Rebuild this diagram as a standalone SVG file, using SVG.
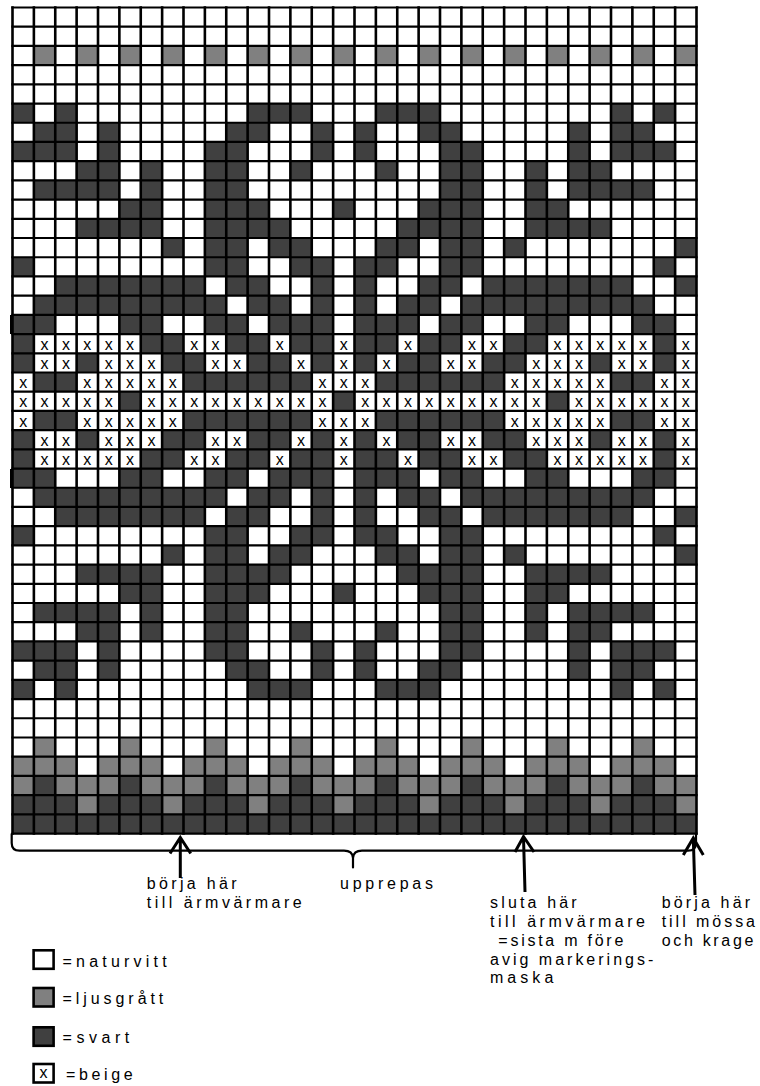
<svg xmlns="http://www.w3.org/2000/svg" xmlns:xlink="http://www.w3.org/1999/xlink" width="760" height="1086" viewBox="0 0 760 1086">
<style>
.d{fill:#404040}
.g{fill:#808080}
.gl{fill:none;stroke:#000;vector-effect:non-scaling-stroke;stroke-linecap:square}
.v{stroke-width:2.6}
.h{stroke-width:2.2}
.x{font-family:"Liberation Sans",Arial,sans-serif;font-size:16px;text-anchor:middle;fill:#000}
.t{font-family:"Liberation Sans",Arial,sans-serif;font-size:16px;fill:#000}
.ln{fill:none;stroke:#000;stroke-width:2.2;stroke-linecap:round;stroke-linejoin:round}
.ar{fill:none;stroke:#000;stroke-width:3;stroke-linejoin:miter}
.lg{stroke:#000;stroke-width:2.6}
</style>
<rect width="760" height="1086" fill="#fff"/>
<g id="chart">
<g id="cells" transform="translate(12.5,7.5) scale(21.375,19.21)">
<rect x="0" y="0" width="32" height="43" fill="#fff"/>
<g id="row3">
<rect class="g" x="1" y="2" width="1" height="1"/><rect class="g" x="3" y="2" width="1" height="1"/><rect class="g" x="5" y="2" width="1" height="1"/><rect class="g" x="7" y="2" width="1" height="1"/><rect class="g" x="9" y="2" width="1" height="1"/><rect class="g" x="11" y="2" width="1" height="1"/><rect class="g" x="13" y="2" width="1" height="1"/><rect class="g" x="15" y="2" width="1" height="1"/><rect class="g" x="17" y="2" width="1" height="1"/><rect class="g" x="19" y="2" width="1" height="1"/><rect class="g" x="21" y="2" width="1" height="1"/><rect class="g" x="23" y="2" width="1" height="1"/><rect class="g" x="25" y="2" width="1" height="1"/><rect class="g" x="27" y="2" width="1" height="1"/><rect class="g" x="29" y="2" width="1" height="1"/><rect class="g" x="31" y="2" width="1" height="1"/>
</g>
<g id="motif">
<rect class="d" x="0" y="5" width="1" height="1"/><rect class="d" x="2" y="5" width="1" height="1"/><rect class="d" x="11" y="5" width="3" height="1"/><rect class="d" x="17" y="5" width="3" height="1"/><rect class="d" x="28" y="5" width="1" height="1"/><rect class="d" x="30" y="5" width="1" height="1"/>
<rect class="d" x="1" y="6" width="2" height="1"/><rect class="d" x="4" y="6" width="1" height="1"/><rect class="d" x="10" y="6" width="2" height="1"/><rect class="d" x="14" y="6" width="1" height="1"/><rect class="d" x="16" y="6" width="1" height="1"/><rect class="d" x="19" y="6" width="2" height="1"/><rect class="d" x="26" y="6" width="1" height="1"/><rect class="d" x="28" y="6" width="2" height="1"/>
<rect class="d" x="0" y="7" width="3" height="1"/><rect class="d" x="4" y="7" width="1" height="1"/><rect class="d" x="9" y="7" width="2" height="1"/><rect class="d" x="14" y="7" width="1" height="1"/><rect class="d" x="16" y="7" width="1" height="1"/><rect class="d" x="20" y="7" width="2" height="1"/><rect class="d" x="26" y="7" width="1" height="1"/><rect class="d" x="28" y="7" width="3" height="1"/>
<rect class="d" x="3" y="8" width="2" height="1"/><rect class="d" x="6" y="8" width="1" height="1"/><rect class="d" x="9" y="8" width="2" height="1"/><rect class="d" x="13" y="8" width="1" height="1"/><rect class="d" x="17" y="8" width="1" height="1"/><rect class="d" x="20" y="8" width="2" height="1"/><rect class="d" x="24" y="8" width="1" height="1"/><rect class="d" x="26" y="8" width="2" height="1"/>
<rect class="d" x="1" y="9" width="4" height="1"/><rect class="d" x="6" y="9" width="1" height="1"/><rect class="d" x="9" y="9" width="2" height="1"/><rect class="d" x="20" y="9" width="2" height="1"/><rect class="d" x="24" y="9" width="1" height="1"/><rect class="d" x="26" y="9" width="4" height="1"/>
<rect class="d" x="5" y="10" width="2" height="1"/><rect class="d" x="9" y="10" width="3" height="1"/><rect class="d" x="15" y="10" width="1" height="1"/><rect class="d" x="19" y="10" width="3" height="1"/><rect class="d" x="24" y="10" width="2" height="1"/>
<rect class="d" x="3" y="11" width="4" height="1"/><rect class="d" x="9" y="11" width="4" height="1"/><rect class="d" x="18" y="11" width="4" height="1"/><rect class="d" x="24" y="11" width="4" height="1"/>
<rect class="d" x="7" y="12" width="1" height="1"/><rect class="d" x="9" y="12" width="2" height="1"/><rect class="d" x="12" y="12" width="2" height="1"/><rect class="d" x="17" y="12" width="2" height="1"/><rect class="d" x="20" y="12" width="2" height="1"/><rect class="d" x="23" y="12" width="1" height="1"/><rect class="d" x="31" y="12" width="1" height="1"/>
<rect class="d" x="0" y="13" width="1" height="1"/><rect class="d" x="9" y="13" width="2" height="1"/><rect class="d" x="13" y="13" width="2" height="1"/><rect class="d" x="16" y="13" width="2" height="1"/><rect class="d" x="20" y="13" width="2" height="1"/><rect class="d" x="30" y="13" width="1" height="1"/>
<rect class="d" x="2" y="14" width="7" height="1"/><rect class="d" x="10" y="14" width="2" height="1"/><rect class="d" x="14" y="14" width="1" height="1"/><rect class="d" x="16" y="14" width="1" height="1"/><rect class="d" x="19" y="14" width="2" height="1"/><rect class="d" x="22" y="14" width="7" height="1"/><rect class="d" x="31" y="14" width="1" height="1"/>
<rect class="d" x="1" y="15" width="9" height="1"/><rect class="d" x="11" y="15" width="2" height="1"/><rect class="d" x="14" y="15" width="1" height="1"/><rect class="d" x="16" y="15" width="1" height="1"/><rect class="d" x="18" y="15" width="2" height="1"/><rect class="d" x="21" y="15" width="9" height="1"/>
<rect class="d" x="0" y="16" width="2" height="1"/><rect class="d" x="5" y="16" width="2" height="1"/><rect class="d" x="9" y="16" width="2" height="1"/><rect class="d" x="12" y="16" width="3" height="1"/><rect class="d" x="16" y="16" width="3" height="1"/><rect class="d" x="20" y="16" width="2" height="1"/><rect class="d" x="24" y="16" width="2" height="1"/><rect class="d" x="29" y="16" width="2" height="1"/>
<rect class="d" x="0" y="17" width="1" height="1"/><rect class="d" x="6" y="17" width="2" height="1"/><rect class="d" x="10" y="17" width="2" height="1"/><rect class="d" x="13" y="17" width="2" height="1"/><rect class="d" x="16" y="17" width="2" height="1"/><rect class="d" x="19" y="17" width="2" height="1"/><rect class="d" x="23" y="17" width="2" height="1"/><rect class="d" x="30" y="17" width="1" height="1"/>
<rect class="d" x="0" y="18" width="1" height="1"/><rect class="d" x="3" y="18" width="1" height="1"/><rect class="d" x="7" y="18" width="2" height="1"/><rect class="d" x="11" y="18" width="2" height="1"/><rect class="d" x="14" y="18" width="1" height="1"/><rect class="d" x="16" y="18" width="1" height="1"/><rect class="d" x="18" y="18" width="2" height="1"/><rect class="d" x="22" y="18" width="2" height="1"/><rect class="d" x="27" y="18" width="1" height="1"/><rect class="d" x="30" y="18" width="1" height="1"/>
<rect class="d" x="1" y="19" width="2" height="1"/><rect class="d" x="8" y="19" width="6" height="1"/><rect class="d" x="17" y="19" width="6" height="1"/><rect class="d" x="28" y="19" width="2" height="1"/>
</g>
<g id="row21">
<rect class="d" x="5" y="20" width="1" height="1"/><rect class="d" x="15" y="20" width="1" height="1"/><rect class="d" x="25" y="20" width="1" height="1"/>
</g>
<use xlink:href="#motif" href="#motif" transform="matrix(1,0,0,-1,0,41)"/>
<g id="rib">
<rect class="g" x="1" y="38" width="1" height="1"/><rect class="g" x="5" y="38" width="1" height="1"/><rect class="g" x="9" y="38" width="1" height="1"/><rect class="g" x="13" y="38" width="1" height="1"/><rect class="g" x="17" y="38" width="1" height="1"/><rect class="g" x="21" y="38" width="1" height="1"/><rect class="g" x="25" y="38" width="1" height="1"/><rect class="g" x="29" y="38" width="1" height="1"/>
<rect class="g" x="0" y="39" width="3" height="1"/><rect class="g" x="4" y="39" width="3" height="1"/><rect class="g" x="8" y="39" width="3" height="1"/><rect class="g" x="12" y="39" width="3" height="1"/><rect class="g" x="16" y="39" width="3" height="1"/><rect class="g" x="20" y="39" width="3" height="1"/><rect class="g" x="24" y="39" width="3" height="1"/><rect class="g" x="28" y="39" width="3" height="1"/>
<rect class="g" x="0" y="40" width="32" height="1"/>
<rect class="d" x="1" y="40" width="1" height="1"/><rect class="d" x="5" y="40" width="1" height="1"/><rect class="d" x="9" y="40" width="1" height="1"/><rect class="d" x="13" y="40" width="1" height="1"/><rect class="d" x="17" y="40" width="1" height="1"/><rect class="d" x="21" y="40" width="1" height="1"/><rect class="d" x="25" y="40" width="1" height="1"/><rect class="d" x="29" y="40" width="1" height="1"/>
<rect class="d" x="0" y="41" width="32" height="2"/>
<rect class="g" x="3" y="41" width="1" height="1"/><rect class="g" x="7" y="41" width="1" height="1"/><rect class="g" x="11" y="41" width="1" height="1"/><rect class="g" x="15" y="41" width="1" height="1"/><rect class="g" x="19" y="41" width="1" height="1"/><rect class="g" x="23" y="41" width="1" height="1"/><rect class="g" x="27" y="41" width="1" height="1"/><rect class="g" x="31" y="41" width="1" height="1"/>
</g>
<path class="gl v" d="M0 0V43M1 0V43M2 0V43M3 0V43M4 0V43M5 0V43M6 0V43M7 0V43M8 0V43M9 0V43M10 0V43M11 0V43M12 0V43M13 0V43M14 0V43M15 0V43M16 0V43M17 0V43M18 0V43M19 0V43M20 0V43M21 0V43M22 0V43M23 0V43M24 0V43M25 0V43M26 0V43M27 0V43M28 0V43M29 0V43M30 0V43M31 0V43M32 0V43"/>
<path class="gl h" d="M0 0H32M0 1H32M0 2H32M0 3H32M0 4H32M0 5H32M0 6H32M0 7H32M0 8H32M0 9H32M0 10H32M0 11H32M0 12H32M0 13H32M0 14H32M0 15H32M0 16H32M0 17H32M0 18H32M0 19H32M0 20H32M0 21H32M0 22H32M0 23H32M0 24H32M0 25H32M0 26H32M0 27H32M0 28H32M0 29H32M0 30H32M0 31H32M0 32H32M0 33H32M0 34H32M0 35H32M0 36H32M0 37H32M0 38H32M0 39H32M0 40H32M0 41H32M0 42H32M0 43H32"/>
</g>
<rect x="10" y="315" width="3" height="19" fill="#000"/>
<rect x="10" y="469" width="3" height="19" fill="#000"/>
<g id="beige">
<g transform="translate(0,334.07)"><text class="x" x="44.56" y="15.8">x</text><text class="x" x="65.94" y="15.8">x</text><text class="x" x="87.31" y="15.8">x</text><text class="x" x="108.69" y="15.8">x</text><text class="x" x="130.06" y="15.8">x</text><text class="x" x="194.19" y="15.8">x</text><text class="x" x="215.56" y="15.8">x</text><text class="x" x="279.69" y="15.8">x</text><text class="x" x="343.81" y="15.8">x</text><text class="x" x="407.94" y="15.8">x</text><text class="x" x="472.06" y="15.8">x</text><text class="x" x="493.44" y="15.8">x</text><text class="x" x="557.56" y="15.8">x</text><text class="x" x="578.94" y="15.8">x</text><text class="x" x="600.31" y="15.8">x</text><text class="x" x="621.69" y="15.8">x</text><text class="x" x="643.06" y="15.8">x</text><text class="x" x="685.81" y="15.8">x</text></g>
<g transform="translate(0,353.28)"><text class="x" x="44.56" y="15.8">x</text><text class="x" x="65.94" y="15.8">x</text><text class="x" x="108.69" y="15.8">x</text><text class="x" x="130.06" y="15.8">x</text><text class="x" x="151.44" y="15.8">x</text><text class="x" x="215.56" y="15.8">x</text><text class="x" x="236.94" y="15.8">x</text><text class="x" x="301.06" y="15.8">x</text><text class="x" x="343.81" y="15.8">x</text><text class="x" x="386.56" y="15.8">x</text><text class="x" x="450.69" y="15.8">x</text><text class="x" x="472.06" y="15.8">x</text><text class="x" x="536.19" y="15.8">x</text><text class="x" x="557.56" y="15.8">x</text><text class="x" x="578.94" y="15.8">x</text><text class="x" x="621.69" y="15.8">x</text><text class="x" x="643.06" y="15.8">x</text><text class="x" x="685.81" y="15.8">x</text></g>
<g transform="translate(0,372.49)"><text class="x" x="23.19" y="15.8">x</text><text class="x" x="87.31" y="15.8">x</text><text class="x" x="108.69" y="15.8">x</text><text class="x" x="130.06" y="15.8">x</text><text class="x" x="151.44" y="15.8">x</text><text class="x" x="172.81" y="15.8">x</text><text class="x" x="322.44" y="15.8">x</text><text class="x" x="343.81" y="15.8">x</text><text class="x" x="365.19" y="15.8">x</text><text class="x" x="514.81" y="15.8">x</text><text class="x" x="536.19" y="15.8">x</text><text class="x" x="557.56" y="15.8">x</text><text class="x" x="578.94" y="15.8">x</text><text class="x" x="600.31" y="15.8">x</text><text class="x" x="664.44" y="15.8">x</text><text class="x" x="685.81" y="15.8">x</text></g>
<g transform="translate(0,391.7)"><text class="x" x="23.19" y="15.8">x</text><text class="x" x="44.56" y="15.8">x</text><text class="x" x="65.94" y="15.8">x</text><text class="x" x="87.31" y="15.8">x</text><text class="x" x="108.69" y="15.8">x</text><text class="x" x="151.44" y="15.8">x</text><text class="x" x="172.81" y="15.8">x</text><text class="x" x="194.19" y="15.8">x</text><text class="x" x="215.56" y="15.8">x</text><text class="x" x="236.94" y="15.8">x</text><text class="x" x="258.31" y="15.8">x</text><text class="x" x="279.69" y="15.8">x</text><text class="x" x="301.06" y="15.8">x</text><text class="x" x="322.44" y="15.8">x</text><text class="x" x="365.19" y="15.8">x</text><text class="x" x="386.56" y="15.8">x</text><text class="x" x="407.94" y="15.8">x</text><text class="x" x="429.31" y="15.8">x</text><text class="x" x="450.69" y="15.8">x</text><text class="x" x="472.06" y="15.8">x</text><text class="x" x="493.44" y="15.8">x</text><text class="x" x="514.81" y="15.8">x</text><text class="x" x="536.19" y="15.8">x</text><text class="x" x="578.94" y="15.8">x</text><text class="x" x="600.31" y="15.8">x</text><text class="x" x="621.69" y="15.8">x</text><text class="x" x="643.06" y="15.8">x</text><text class="x" x="664.44" y="15.8">x</text><text class="x" x="685.81" y="15.8">x</text></g>
<g transform="translate(0,410.91)"><text class="x" x="23.19" y="15.8">x</text><text class="x" x="87.31" y="15.8">x</text><text class="x" x="108.69" y="15.8">x</text><text class="x" x="130.06" y="15.8">x</text><text class="x" x="151.44" y="15.8">x</text><text class="x" x="172.81" y="15.8">x</text><text class="x" x="322.44" y="15.8">x</text><text class="x" x="343.81" y="15.8">x</text><text class="x" x="365.19" y="15.8">x</text><text class="x" x="514.81" y="15.8">x</text><text class="x" x="536.19" y="15.8">x</text><text class="x" x="557.56" y="15.8">x</text><text class="x" x="578.94" y="15.8">x</text><text class="x" x="600.31" y="15.8">x</text><text class="x" x="664.44" y="15.8">x</text><text class="x" x="685.81" y="15.8">x</text></g>
<g transform="translate(0,430.12)"><text class="x" x="44.56" y="15.8">x</text><text class="x" x="65.94" y="15.8">x</text><text class="x" x="108.69" y="15.8">x</text><text class="x" x="130.06" y="15.8">x</text><text class="x" x="151.44" y="15.8">x</text><text class="x" x="215.56" y="15.8">x</text><text class="x" x="236.94" y="15.8">x</text><text class="x" x="301.06" y="15.8">x</text><text class="x" x="343.81" y="15.8">x</text><text class="x" x="386.56" y="15.8">x</text><text class="x" x="450.69" y="15.8">x</text><text class="x" x="472.06" y="15.8">x</text><text class="x" x="536.19" y="15.8">x</text><text class="x" x="557.56" y="15.8">x</text><text class="x" x="578.94" y="15.8">x</text><text class="x" x="621.69" y="15.8">x</text><text class="x" x="643.06" y="15.8">x</text><text class="x" x="685.81" y="15.8">x</text></g>
<g transform="translate(0,449.33)"><text class="x" x="44.56" y="15.8">x</text><text class="x" x="65.94" y="15.8">x</text><text class="x" x="87.31" y="15.8">x</text><text class="x" x="108.69" y="15.8">x</text><text class="x" x="130.06" y="15.8">x</text><text class="x" x="194.19" y="15.8">x</text><text class="x" x="215.56" y="15.8">x</text><text class="x" x="279.69" y="15.8">x</text><text class="x" x="343.81" y="15.8">x</text><text class="x" x="407.94" y="15.8">x</text><text class="x" x="472.06" y="15.8">x</text><text class="x" x="493.44" y="15.8">x</text><text class="x" x="557.56" y="15.8">x</text><text class="x" x="578.94" y="15.8">x</text><text class="x" x="600.31" y="15.8">x</text><text class="x" x="621.69" y="15.8">x</text><text class="x" x="643.06" y="15.8">x</text><text class="x" x="685.81" y="15.8">x</text></g>
</g>
</g>
<g id="connectors">
<path class="ln" d="M11.7 834V843Q11.7 850.7 19.5 850.7H344Q352.5 850.7 353 858V867.5M353 858Q353.5 850.7 362 850.7H688Q696 850.7 696 843V834"/>
<path class="ar" d="M180.3 838V878M170 853.5L180.3 837.5L190.7 853.5"/>
<path class="ar" d="M523.5 837L525 892M515 852L523.5 836.5L534 852"/>
<path class="ar" d="M693.3 838L695 895M683.3 855L693.3 838L703.3 855"/>
</g>
<g id="labels">
<text class="t" x="146.7" y="889.3" textLength="90" lengthAdjust="spacing">börja här</text>
<text class="t" x="146.7" y="908.3" textLength="155" lengthAdjust="spacing">till ärmvärmare</text>
<text class="t" x="340" y="888.5" textLength="93" lengthAdjust="spacing">upprepas</text>
<text class="t" x="490" y="907.7" textLength="86.7" lengthAdjust="spacing">sluta här</text>
<text class="t" x="490" y="926.7" textLength="155" lengthAdjust="spacing">till ärmvärmare</text>
<text class="t" x="498.3" y="945.7" textLength="125" lengthAdjust="spacing">=sista m före</text>
<text class="t" x="490" y="964.5" textLength="163.3" lengthAdjust="spacing">avig markerings-</text>
<text class="t" x="490" y="983.3" textLength="63.3" lengthAdjust="spacing">maska</text>
<text class="t" x="661.7" y="907.7" textLength="88.3" lengthAdjust="spacing">börja här</text>
<text class="t" x="661.7" y="926.7" textLength="93.3" lengthAdjust="spacing">till mössa</text>
<text class="t" x="661.7" y="945.7" textLength="91.7" lengthAdjust="spacing">och krage</text>
</g>
<g id="legend">
<g id="leg-naturvitt"><rect class="lg" x="33.6" y="950.3" width="20" height="18.5" fill="#fff"/><text class="t" x="62.5" y="966.7" textLength="104.2" lengthAdjust="spacing">=naturvitt</text></g>
<g id="leg-ljusgratt"><rect class="lg" x="33.6" y="988" width="20" height="18.5" fill="#808080"/><text class="t" x="62.5" y="1004" textLength="100.8" lengthAdjust="spacing">=ljusgrått</text></g>
<g id="leg-svart"><rect class="lg" x="33.6" y="1027.3" width="20" height="18.5" fill="#404040"/><text class="t" x="62.5" y="1043.3" textLength="66.8" lengthAdjust="spacing">=svart</text></g>
<g id="leg-beige"><rect class="lg" x="33.6" y="1064" width="20" height="18.5" fill="#fff"/><text class="x" x="43.6" y="1078.3">x</text><text class="t" x="66" y="1080" textLength="66.7" lengthAdjust="spacing">=beige</text></g>
</g>
</svg>
